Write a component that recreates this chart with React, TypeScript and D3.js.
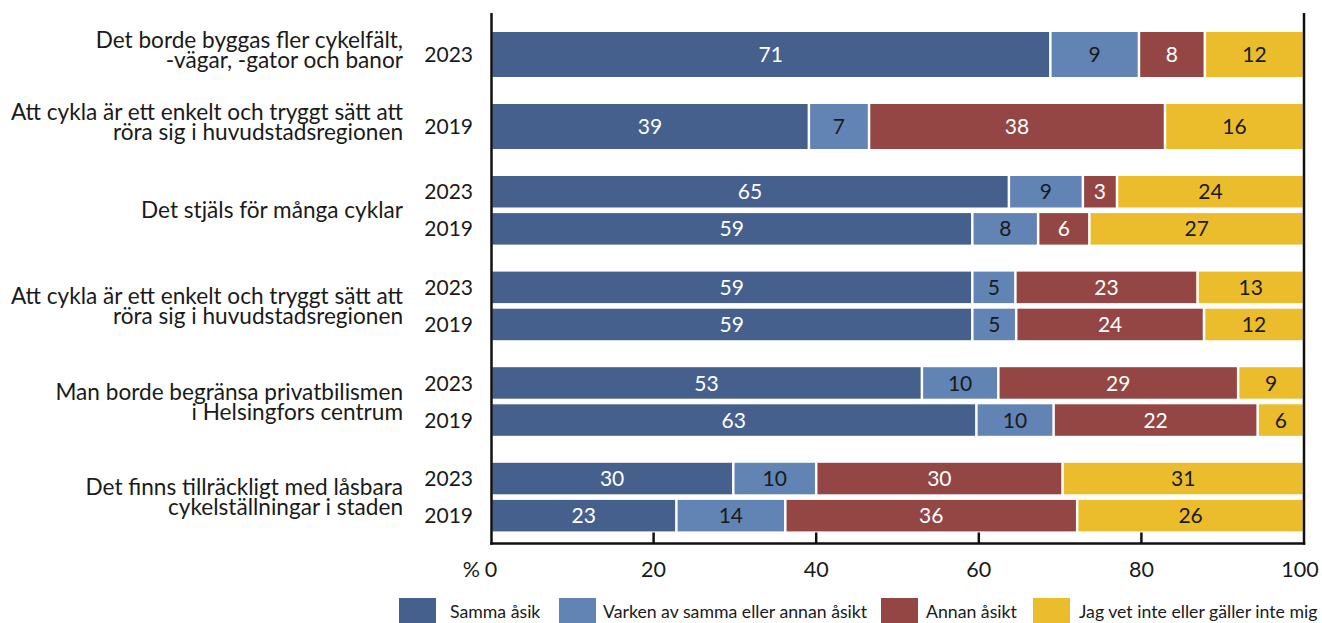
import React from "react";
import * as d3 from "d3";

// ---- data ----
const groupLabels: string[][] = [
  ["Det borde byggas fler cykelfält,", "-vägar, -gator och banor"],
  ["Att cykla är ett enkelt och tryggt sätt att", "röra sig i huvudstadsregionen"],
  ["Det stjäls för många cyklar"],
  ["Att cykla är ett enkelt och tryggt sätt att", "röra sig i huvudstadsregionen"],
  ["Man borde begränsa privatbilismen", "i Helsingfors centrum"],
  ["Det finns tillräckligt med låsbara", "cykelställningar i staden"],
];
const groupYears: string[][] = [
  ["2023"],
  ["2019"],
  ["2023", "2019"],
  ["2023", "2019"],
  ["2023", "2019"],
  ["2023", "2019"],
];
const categories = [
  "Samma åsik",
  "Varken av samma eller annan åsikt",
  "Annan åsikt",
  "Jag vet inte eller gäller inte mig",
];
// bar lengths (percent) as drawn
const sammaShare = [68.8, 39.1, 63.7, 59.2, 59.2, 59.2, 53.0, 59.7, 29.8, 22.8];
const varkenShare = [10.9, 7.4, 9.1, 8.1, 5.3, 5.4, 9.4, 9.5, 10.2, 13.4];
const annanShare = [8.1, 36.4, 4.2, 6.3, 22.4, 23.1, 29.5, 25.1, 30.3, 35.9];
const vetInteShare = [12.2, 17.1, 23.0, 26.4, 13.1, 12.3, 8.1, 5.7, 29.7, 27.9];
// printed labels
const sammaLabels = [71, 39, 65, 59, 59, 59, 53, 63, 30, 23];
const varkenLabels = [9, 7, 9, 8, 5, 5, 10, 10, 10, 14];
const annanLabels = [8, 38, 3, 6, 23, 24, 29, 22, 30, 36];
const vetInteLabels = [12, 16, 24, 27, 13, 12, 9, 6, 31, 26];
const xTicks = [0, 20, 40, 60, 80, 100];

// ---- style ----
const colors = ["#46608e", "#6284b4", "#944645", "#ebbd2c"];
const labelColors = ["#ffffff", "#1a1a1a", "#ffffff", "#1a1a1a"];
const FONT = "Lato, 'Source Sans Pro', sans-serif";
const INK = "#1a1a1a";

const W = 1322;
const H = 623;

export default function App() {
  const x = d3.scaleLinear().domain([0, 100]).range([491, 1304]);

  const shares = [sammaShare, varkenShare, annanShare, vetInteShare];
  const labels = [sammaLabels, varkenLabels, annanLabels, vetInteLabels];

  // vertical layout
  const top = 32;
  const singleT = 45;
  const doubleT = 31.5;
  const intraGap = 5.6;
  const interGap = 27;
  type Bar = { idx: number; y: number; h: number; year: string };
  const bars: Bar[] = [];
  const groupCenters: number[] = [];
  let cursor = top;
  let idx = 0;
  groupYears.forEach((years) => {
    const t = years.length === 1 ? singleT : doubleT;
    const start = cursor;
    years.forEach((yr, j) => {
      if (j > 0) cursor += intraGap;
      bars.push({ idx, y: cursor, h: t, year: yr });
      cursor += t;
      idx++;
    });
    // single-bar groups carry their label slightly above the bar centre
    groupCenters.push((start + cursor) / 2 - (years.length === 1 ? 5 : 0));
    cursor += interGap;
  });

  const stacks = bars.map((b) => {
    let acc = 0;
    return shares.map((s, k) => {
      const x0 = acc;
      acc += s[b.idx];
      return { k, x0, x1: acc, label: labels[k][b.idx] };
    });
  });

  const axisBottom = 543.5;
  const axisTop = 13;
  const lineH = 20;
  const fs = 21;
  const gfs = 22.6;

  const legendX = [399, 559, 881, 1033];
  const legendTextX = [450, 603, 926, 1079];

  return (
    <svg
      width={W}
      height={H}
      style={{ position: "absolute", left: 0, top: 0, background: "#fff" }}
      fontFamily={FONT}
    >
      {/* bars */}
      {bars.map((b, i) => (
        <g key={"bar" + i}>
          {stacks[i].map((seg) => {
            const x0 = x(seg.x0) + 1.25;
            const x1 = x(seg.x1) - 1.25;
            return (
              <g key={seg.k}>
                <rect x={x0} y={b.y} width={Math.max(0, x1 - x0)} height={b.h} fill={colors[seg.k]} />
                <text
                  x={(x0 + x1) / 2}
                  y={b.y + b.h / 2}
                  dy="0.36em"
                  textAnchor="middle"
                  fontSize={fs}
                  fill={labelColors[seg.k]}
                >
                  {seg.label}
                </text>
              </g>
            );
          })}
          <text x={473} y={b.y + b.h / 2} dy="0.36em" textAnchor="end" fontSize={fs} fill={INK}>
            {b.year}
          </text>
        </g>
      ))}

      {/* group labels */}
      {groupLabels.map((lines, g) => {
        const n = lines.length;
        return (
          <text key={"gl" + g} textAnchor="end" fontSize={gfs} fill={INK}>
            {lines.map((ln, j) => (
              <tspan key={j} x={403} y={groupCenters[g] + (j - (n - 1) / 2) * lineH} dy="0.36em">
                {ln}
              </tspan>
            ))}
          </text>
        );
      })}

      {/* axes frame */}
      <line x1={491.5} x2={491.5} y1={axisTop} y2={axisBottom + 1.25} stroke="#111" strokeWidth={2.5} />
      <line x1={1304} x2={1304} y1={axisTop} y2={axisBottom + 1.25} stroke="#111" strokeWidth={2.5} />
      <line x1={490.25} x2={1305.25} y1={axisBottom} y2={axisBottom} stroke="#111" strokeWidth={2.5} />
      {xTicks
        .filter((t) => t > 0 && t < 100)
        .map((t) => (
          <line key={"tk" + t} x1={x(t)} x2={x(t)} y1={axisBottom} y2={axisBottom - 11} stroke="#111" strokeWidth={2.5} />
        ))}
      {xTicks.map((t) => (
        <text
          key={"tl" + t}
          x={Math.min(x(t), W - 22)}
          y={577}
          textAnchor="middle"
          fontSize={21.5}
          fill={INK}
        >
          {t}
        </text>
      ))}
      <text x={x(0) - 11} y={577} textAnchor="end" fontSize={21.5} fill={INK}>
        %
      </text>

      {/* legend */}
      {categories.map((c, k) => (
        <g key={"lg" + k}>
          <rect x={legendX[k]} y={598} width={37} height={30} fill={colors[k]} />
          <text x={legendTextX[k]} y={618} fontSize={17.7} fill={INK}>
            {c}
          </text>
        </g>
      ))}
    </svg>
  );
}
